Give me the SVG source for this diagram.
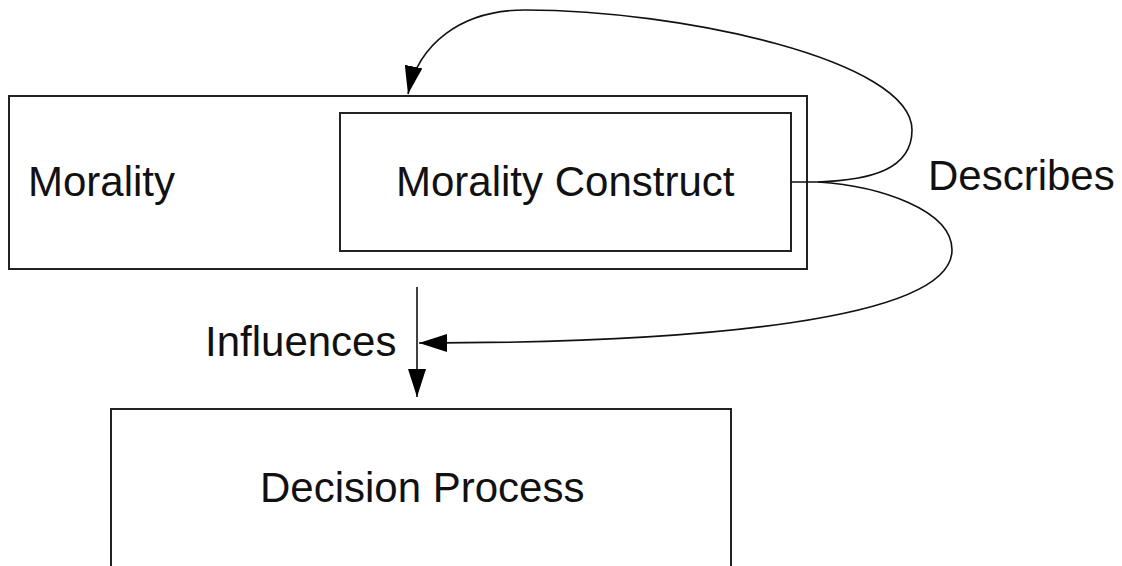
<svg xmlns="http://www.w3.org/2000/svg" width="1122" height="566" viewBox="0 0 1122 566">
<style>
.box{fill:#fff;stroke:#222;stroke-width:2}
.lbl{font-family:"Liberation Sans",Arial,sans-serif;font-size:42px;fill:#111}
.conn{fill:none;stroke:#111;stroke-width:1.6}
</style>
<defs>
<marker id="ah" markerWidth="28" markerHeight="18" refX="28" refY="9" orient="auto" markerUnits="userSpaceOnUse">
<path d="M0,0 L28,9 L0,18 Z" fill="#000"/>
</marker>
</defs>
<rect width="1122" height="566" fill="#fff"/>
<g id="morality">
<rect class="box" x="9" y="96" width="798" height="173"/>
<text class="lbl" x="28" y="196">Morality</text>
</g>
<g id="morality-construct">
<rect class="box" x="340" y="113" width="451" height="138"/>
<text class="lbl" x="396" y="196">Morality Construct</text>
</g>
<g id="decision-process">
<rect class="box" x="111" y="409" width="620" height="170"/>
<text class="lbl" x="260" y="502">Decision Process</text>
</g>
<g id="connectors">
<path class="conn" d="M791,182 L818,182 C870,180 912,170 912,130 C912,60 680,10 525,10 C460,10 418,45 408,94" marker-end="url(#ah)"/>
<path class="conn" d="M818,182 C880,186 952,210 952,250 C952,320 700,343 419,343" marker-end="url(#ah)"/>
<path class="conn" d="M417,287 L417,397" marker-end="url(#ah)"/>
<text class="lbl" x="928" y="190">Describes</text>
<text class="lbl" x="205" y="356">Influences</text>
</g>
</svg>
